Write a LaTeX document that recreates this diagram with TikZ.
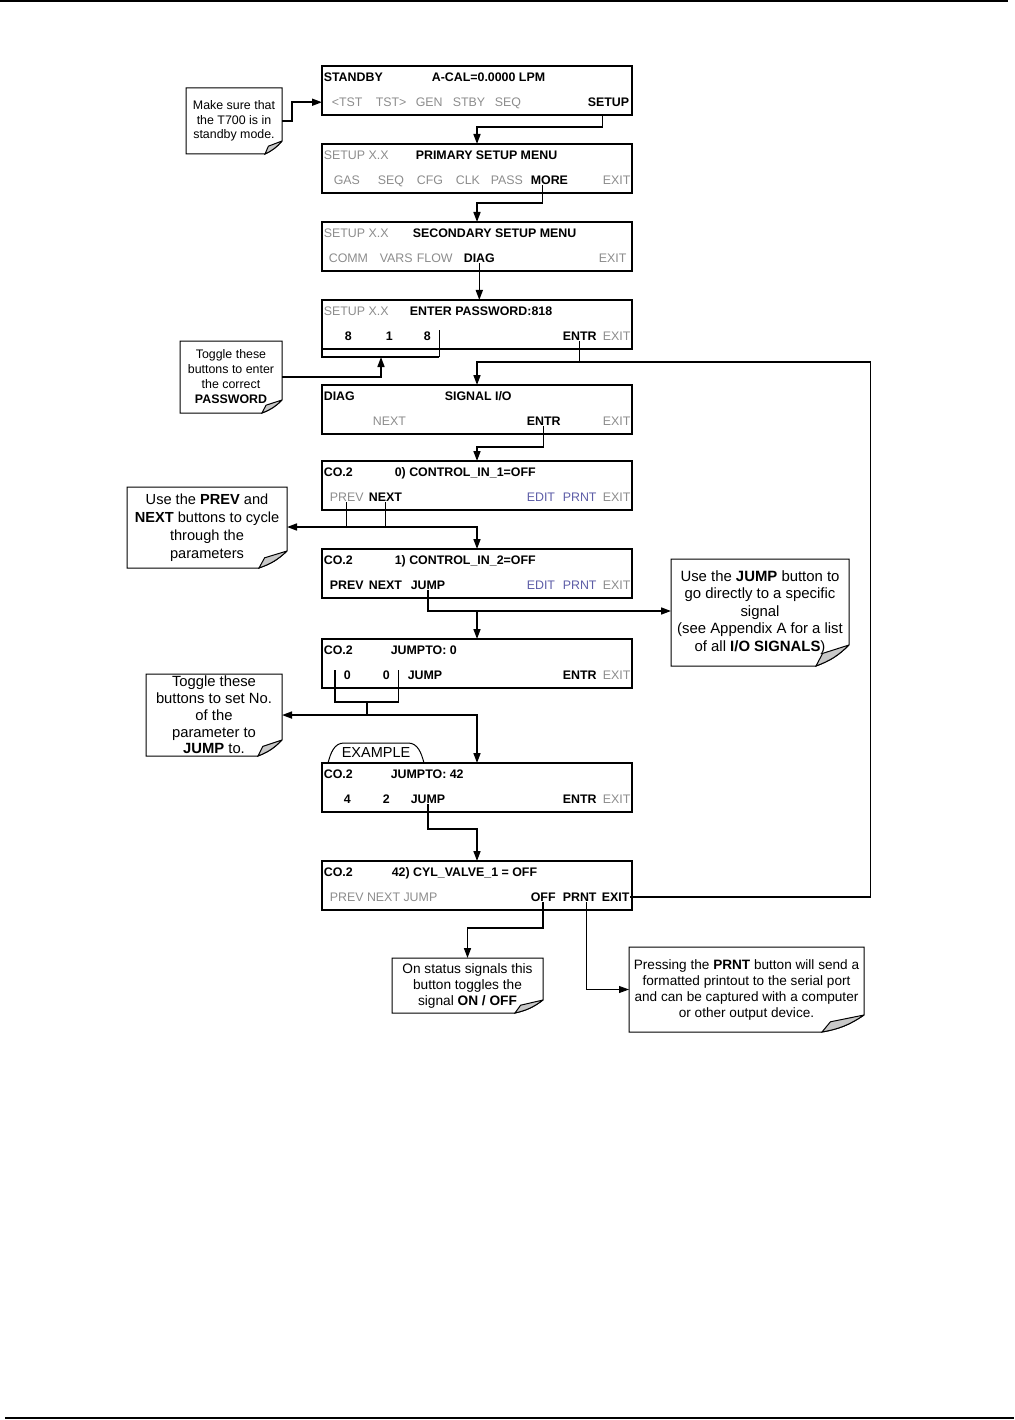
\documentclass[tikz,border=0pt]{standalone}
\usepackage{fontspec}
\setmainfont{Liberation Sans}
\usepackage{xcolor}
\definecolor{mygray}{HTML}{8C8C8C}
\definecolor{myblue}{HTML}{5C5CA6}
\definecolor{foldgray}{HTML}{C8C8C8}
\usetikzlibrary{arrows.meta,calc}
\tikzstyle{screen} = [rectangle, draw, line width=1.6pt, minimum width=310pt, minimum height=49pt, inner sep=0pt, outer sep=0pt]
\tikzstyle{key} = [anchor=base west, inner sep=0pt, font=\fontsize{12.4}{14}\selectfont\bfseries]
\tikzstyle{dim} = [key, font=\fontsize{12.4}{14}\selectfont, text=mygray]
\tikzstyle{soft} = [dim, text=myblue]
\tikzstyle{note} = [rectangle, align=center, inner sep=0pt, outer sep=0pt]
\tikzstyle{tab} = [inner sep=0pt, outer sep=0pt, minimum width=96pt, minimum height=20pt, font=\fontsize{14.5}{16}\selectfont]
\tikzstyle{noteline} = [draw, line width=1pt]
\tikzstyle{thin} = [line width=0.8pt]
% note outline with folded corner: node, fold width, fold height
\newcommand{\dogear}[3]{%
  \draw[noteline] (#1.south west) -- (#1.north west) -- (#1.north east) -- ([yshift=#3pt]#1.south east) to[bend left=12] ([xshift=-#2pt]#1.south east) -- cycle;
  \filldraw[noteline, fill=foldgray] ([yshift=#3pt]#1.south east) -- ([xshift=-0.8*#2pt, yshift=0.6*#3pt]#1.south east) -- ([xshift=-#2pt]#1.south east) to[bend right=12] ([yshift=#3pt]#1.south east);
}

\begin{document}
\begin{tikzpicture}[x=1pt, y=-1pt, line width=1.6pt, >={Triangle[length=10pt,width=7pt]}]
    \useasboundingbox (0,0) rectangle (1014,1420);
    % page rules
    \draw[line width=1.4pt] (0,1) -- (1008,1);
    \draw[line width=1.4pt] (5,1418) -- (1014,1418);

    % Screens
    \node [screen] (standby) at (477,90.5) {};
    \node [screen] (primary) at (477,168.5) {};
    \node [screen] (secondary) at (477,246.5) {};
    \node [screen] (password) at (477,324.5) {};
    \node [screen] (signal) at (477,409.5) {};
    \node [screen] (ctrlone) at (477,485.5) {};
    \node [screen] (ctrltwo) at (477,573.5) {};
    \node [screen] (jumpzero) at (477,663.5) {};
    \node [screen] (jumpft) at (477,787.5) {};
    \node [screen] (valve) at (477,885.5) {};

    % screen texts
    \node [key] (standbyt) at (323,81.5) {STANDBY};
    \node [key] (acal) at (431,81.5) {A-CAL=0.0000 LPM};
    \node [dim] (tstl) at (331,106.5) {<TST};
    \node [dim] (tstr) at (375,106.5) {TST>};
    \node [dim] (gen) at (415,106.5) {GEN};
    \node [dim] (stby) at (452,106.5) {STBY};
    \node [dim] (seqa) at (494,106.5) {SEQ};
    \node [key, anchor=base east] (setup) at (630,106.5) {SETUP};

    \node [dim] (setupa) at (323,159.5) {SETUP X.X};
    \node [key] (primt) at (415,159.5) {PRIMARY SETUP MENU};
    \node [dim] (gas) at (333,184.5) {GAS};
    \node [dim] (seqb) at (377,184.5) {SEQ};
    \node [dim] (cfg) at (416,184.5) {CFG};
    \node [dim] (clk) at (455,184.5) {CLK};
    \node [dim] (pass) at (490,184.5) {PASS};
    \node [key] (more) at (530,184.5) {MORE};
    \node [dim] (exita) at (602,184.5) {EXIT};

    \node [dim] (setupb) at (323,237.5) {SETUP X.X};
    \node [key] (sect) at (412,237.5) {SECONDARY SETUP MENU};
    \node [dim] (comm) at (328,262.5) {COMM};
    \node [dim] (vars) at (379,262.5) {VARS};
    \node [dim] (flow) at (416,262.5) {FLOW};
    \node [key] (diag) at (463,262.5) {DIAG};
    \node [dim] (exitb) at (598,262.5) {EXIT};

    \node [dim] (setupc) at (323,315.5) {SETUP X.X};
    \node [key] (pwdt) at (409,315.5) {ENTER PASSWORD:818};
    \node [key] (diga) at (344,340.5) {8};
    \node [key] (digb) at (385,340.5) {1};
    \node [key] (digc) at (423,340.5) {8};
    \node [key] (entra) at (562,340.5) {ENTR};
    \node [dim] (exitc) at (602,340.5) {EXIT};

    \node [key] (diagt) at (323,400.5) {DIAG};
    \node [key] (sigt) at (444,400.5) {SIGNAL I/O};
    \node [dim] (nextb) at (372,425.5) {NEXT};
    \node [key] (entrb) at (526,425.5) {ENTR};
    \node [dim] (exitd) at (602,425.5) {EXIT};

    \node [key] (coa) at (323,476.5) {CO.2};
    \node [key] (ctrla) at (394,476.5) {0) CONTROL\_IN\_1=OFF};
    \node [dim] (preva) at (329,501.5) {PREV};
    \node [key] (nexta) at (368,501.5) {NEXT};
    \node [soft] (edita) at (526,501.5) {EDIT};
    \node [soft] (prnta) at (562,501.5) {PRNT};
    \node [dim] (exite) at (602,501.5) {EXIT};

    \node [key] (cob) at (323,564.5) {CO.2};
    \node [key] (ctrlb) at (394,564.5) {1) CONTROL\_IN\_2=OFF};
    \node [key] (prevb) at (329,589.5) {PREV};
    \node [key] (nextc) at (368,589.5) {NEXT};
    \node [key] (jumpa) at (410,589.5) {JUMP};
    \node [soft] (editb) at (526,589.5) {EDIT};
    \node [soft] (prntb) at (562,589.5) {PRNT};
    \node [dim] (exitf) at (602,589.5) {EXIT};

    \node [key] (coc) at (323,654.5) {CO.2};
    \node [key] (jto) at (390,654.5) {JUMPTO: 0};
    \node [key] (zeroa) at (343,679.5) {0};
    \node [key] (zerob) at (382,679.5) {0};
    \node [key] (jumpz) at (407,679.5) {JUMP};
    \node [key] (entrc) at (562,679.5) {ENTR};
    \node [dim] (exitg) at (602,679.5) {EXIT};

    \node [tab] (example) at (376,753) {EXAMPLE};
    \node [key] (cod) at (323,778.5) {CO.2};
    \node [key] (jtf) at (390,778.5) {JUMPTO: 42};
    \node [key] (four) at (343,803.5) {4};
    \node [key] (two) at (382,803.5) {2};
    \node [key] (jumpb) at (410,803.5) {JUMP};
    \node [key] (entrd) at (562,803.5) {ENTR};
    \node [dim] (exith) at (602,803.5) {EXIT};

    \node [key] (coe) at (323,876.5) {CO.2};
    \node [key] (cyl) at (391,876.5) {42) CYL\_VALVE\_1 = OFF};
    \node [dim] (pnj) at (329,901.5) {PREV NEXT JUMP};
    \node [key] (offk) at (530,901.5) {OFF};
    \node [key] (prntk) at (562,901.5) {PRNT};
    \node [key] (exitv) at (601,901.5) {EXIT};

    % Notes
    \node [note, minimum width=96pt, minimum height=66pt, font=\fontsize{12.4}{14.5}\selectfont] (sure) at (234,121) {Make sure that\\the T700 is in\\standby mode.};
    \node [note, minimum width=102pt, minimum height=72pt, font=\fontsize{12.4}{15}\selectfont] (toggle) at (231,377) {Toggle these\\buttons to enter\\the correct\\\textbf{PASSWORD}};
    \node [note, minimum width=160pt, minimum height=81pt, font=\fontsize{14.6}{18}\selectfont] (prevnote) at (207,527.5) {Use the \textbf{PREV} and\\\textbf{NEXT} buttons to cycle\\through the\\parameters};
    \node [note, minimum width=178pt, minimum height=107pt, font=\fontsize{14.9}{17.5}\selectfont] (jumpnote) at (760,612.5) {Use the \textbf{JUMP} button to\\go directly to a specific\\signal\\(see Appendix A for a list\\of all \textbf{I/O SIGNALS})};
    \node [note, minimum width=136pt, minimum height=82pt, font=\fontsize{14.8}{16.8}\selectfont] (setno) at (214,715) {Toggle these\\buttons to set No.\\of the\\parameter to\\\textbf{JUMP} to.};
    \node [note, minimum width=151pt, minimum height=55pt, font=\fontsize{13.7}{16}\selectfont] (onoff) at (467.5,985.5) {On status signals this\\button toggles the\\signal \textbf{ON / OFF}};
    \node [note, minimum width=235pt, minimum height=85pt, font=\fontsize{13.6}{16}\selectfont] (prntnote) at (746.5,989.5) {Pressing the \textbf{PRNT} button will send a\\formatted printout to the serial port\\and can be captured with a computer\\or other output device.};

    \dogear{sure}{17}{13}
    \dogear{toggle}{20}{13}
    \dogear{prevnote}{28}{17}
    \dogear{jumpnote}{33}{21}
    \dogear{setno}{24}{16}
    \dogear{onoff}{28}{13}
    \dogear{prntnote}{42}{17}

    % example tab
    \draw[noteline] (example.south west) to[out=75,in=180] ([xshift=16pt]example.north west) -- ([xshift=-16pt]example.north east) to[out=0,in=105] (example.south east);

    % arrows
    \draw[->] (sure.east) -- ++(10,0) |- (standby.west |- tstl);
    \draw[->] ([xshift=-6pt]setup.south |- standby.south) -- ++(0,12) -| (primary.north);
    \draw[->] ([xshift=-7pt]more.south) -- ([xshift=-7pt,yshift=-10pt]more.south |- primary.south) -| (secondary.north);
    \draw[->] (diag.south) -- (diag.south |- password.north);

    % password bracket
    \draw (password.south west) -- ++(0,8) -- ++(117,0) coordinate (pwend);
    \draw[thin] (pwend) -- ++(0,-27);
    \draw[->] (toggle.east) -| ($(password.south west)+(59,8)$);

    \draw[->] (entra.south) -- ([yshift=-13pt]entra.south |- password.south) coordinate (loop) -| (signal.north);
    \draw (loop) -- ++(291,0) |- (exitv.east);
    \draw[->] (entrb.south) -- ([yshift=-13pt]entrb.south |- signal.south) -| (ctrlone.north);

    % prev / next
    \draw (nexta.south) -- ([yshift=-17pt]nexta.south |- ctrlone.south) coordinate (cyc);
    \draw[thin] (preva.south) -- (preva.south |- cyc);
    \draw[->] (cyc) -- (prevnote.east |- cyc);
    \draw[->] (cyc) -| (ctrltwo.north);

    % jump
    \draw[->] (jumpa.south) -- ([yshift=-13pt]jumpa.south |- ctrltwo.south) coordinate (hop) -- (jumpnote.west |- hop);
    \draw[->] (ctrltwo.south |- hop) -- (jumpzero.north);

    % number bracket
    \draw[line width=1.2pt] ([xshift=-8pt]zeroa.north west) |- ([xshift=8pt,yshift=-32pt]zerob.north east) -- ([xshift=8pt]zerob.north east);
    \draw ($(zeroa.north west)!0.5!(zerob.north east)+(0,32)$) -- ++(0,13) coordinate (pick);
    \draw[->] (pick) -- (setno.east |- pick);
    \draw[->] (pick) -| (jumpft.north);

    \draw[->] (jumpb.south) -- ([yshift=-17pt]jumpb.south |- jumpft.south) -| (valve.north);
    \draw[->] (offk.south) -- ([yshift=-18pt]offk.south |- valve.south) -| (onoff.north);
    \draw[thin, ->] ([xshift=7pt]prntk.south) |- (prntnote.west);

\end{tikzpicture}
\end{document}
